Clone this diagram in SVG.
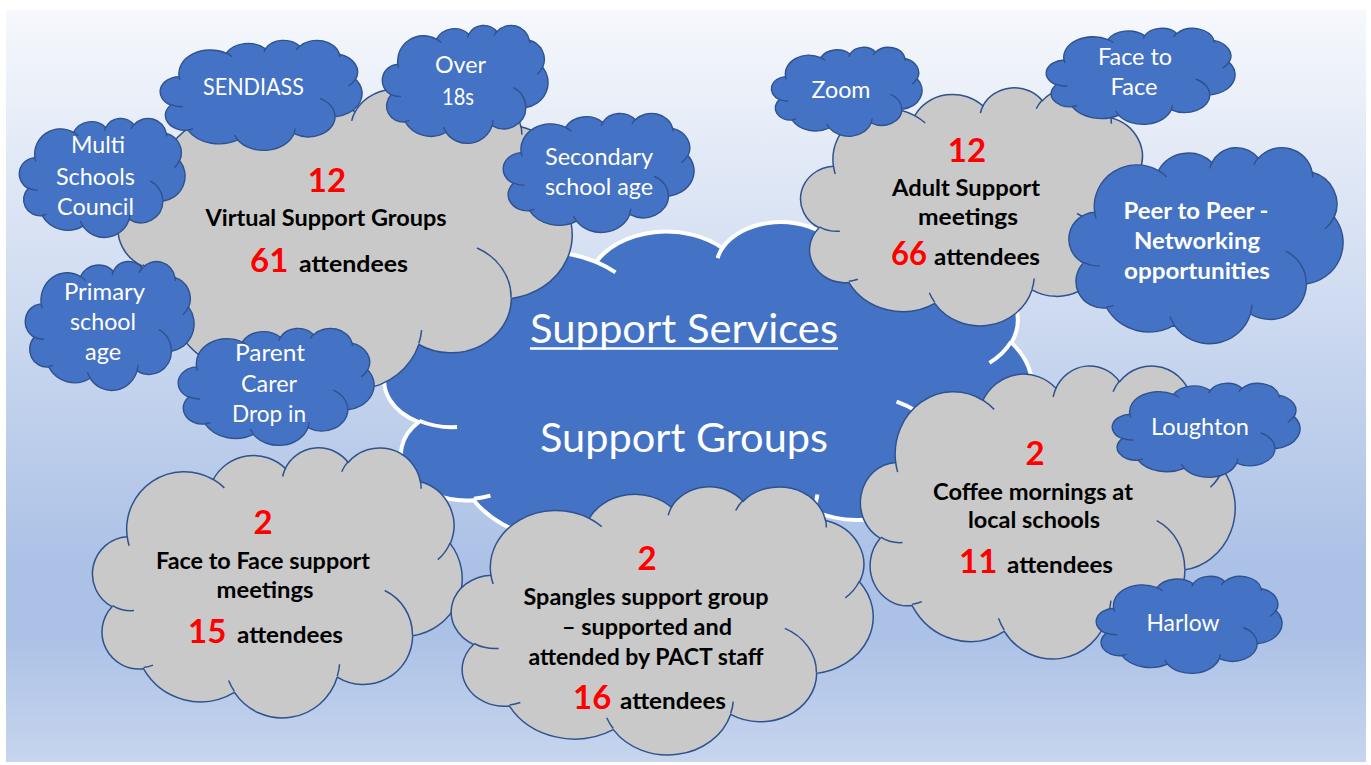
<svg xmlns="http://www.w3.org/2000/svg" width="1371" height="765" viewBox="0 0 1371 765">
<defs>
<linearGradient id="bg" x1="0" y1="0" x2="0" y2="1">
<stop offset="0" stop-color="#f6f8fc"/>
<stop offset="0.74" stop-color="#abc1e6"/>
<stop offset="0.83" stop-color="#abc1e6"/>
<stop offset="1" stop-color="#c7d5ee"/>
</linearGradient>
<g id="cloud">
<path vector-effect="non-scaling-stroke" d="M39,143.7 A67.53,91.9 0 0 1 140.05,52.02 A53.33,72.67 0 0 1 224.57,34.32 A43.65,59.45 0 0 1 298.34,24.79 A48.57,65.95 0 0 1 383.19,55.74 A53.33,72.73 0 0 1 418.19,154.58 A67.75,92.2 0 0 1 374.06,302.03 A57.85,78.67 0 0 1 285.58,368.13 A67.52,92.15 0 0 1 164.84,392.67 A77.2,105.43 0 0 1 58.07,354.72 A43.6,59.18 0 0 1 21.16,255.51 A43.45,59.45 0 0 1 39,143.7 Z"/>
<path vector-effect="non-scaling-stroke" fill="none" d="M46.93,261.77 A43.45,59.45 0 0 1 21.6,253.8 M69.28,348.99 A43.6,59.18 0 0 1 58.2,352.81 M164.78,390.9 A67.52,92.15 0 0 1 158.09,373.47 M288.27,347.51 A67.52,92.15 0 0 1 285.6,366.6 M341.29,229.54 A57.85,78.67 0 0 1 373.8,300.9 M417.98,153.54 A53.33,72.73 0 0 1 403.5,180.29 M383.24,54.26 A48.57,65.95 0 0 1 384.01,66.9 M290.78,39.52 A48.57,65.95 0 0 1 298.2,23.4 M221.41,47.2 A43.65,59.45 0 0 1 225,33.31 M140,51.92 A67.53,91.9 0 0 1 153.01,65.42 M41.27,157.89 A67.53,91.9 0 0 1 39,143.71"/>
</g>
</defs>
<style>
.blue{fill:#4472c4;stroke:#2f528f;stroke-width:1.4;stroke-linejoin:round}
.gray{fill:#c9c9c9;stroke:#2f528f;stroke-width:1.5;stroke-linejoin:round}
.core{fill:#4472c4;stroke:#ffffff;stroke-width:4;stroke-linejoin:round}
text{font-family:Lato,"Liberation Sans",sans-serif}
.w{fill:#ffffff;font-size:22.5px;text-anchor:middle}
.wb{fill:#ffffff;font-size:22.5px;font-weight:bold;text-anchor:middle}
.k{fill:#000000;font-size:22.5px;font-weight:bold;text-anchor:middle}
.ka{fill:#000000;font-size:22.5px;font-weight:bold}
.n{fill:#ff0000;font-size:33px;font-weight:bold;text-anchor:middle}
.na{fill:#ff0000;font-size:33px;font-weight:bold}
.big{fill:#ffffff;font-size:41px;text-anchor:middle}
</style>
<rect x="0" y="0" width="1371" height="765" fill="#ffffff"/>
<rect x="6" y="10" width="1360" height="752" fill="url(#bg)"/>

<g id="support-groups">
<use href="#cloud" class="core" transform="translate(387 221) scale(1.4931 0.7870)"/>
<text class="big" x="684" y="343" textLength="308" lengthAdjust="spacingAndGlyphs">Support Services</text>
<line x1="530" y1="348.5" x2="838" y2="348.5" stroke="#ffffff" stroke-width="2.5"/>
<text class="big" x="684" y="452" textLength="288" lengthAdjust="spacingAndGlyphs">Support Groups</text>
</g>

<g id="virtual-support-groups">
<use href="#cloud" class="gray" transform="translate(120 88) scale(1.0463 0.6968)"/>
<text class="n" x="327" y="192">12</text>
<text class="k" x="326" y="226" textLength="241" lengthAdjust="spacingAndGlyphs">Virtual Support Groups</text>
<text class="na" x="250" y="272">61</text>
<text class="ka" x="299" y="272" textLength="109" lengthAdjust="spacingAndGlyphs">attendees</text>
</g>

<g id="adult-support">
<use href="#cloud" class="gray" transform="translate(802 87) scale(0.8056 0.5509)"/>
<text class="n" x="967" y="162">12</text>
<text class="k" x="966" y="196" textLength="148" lengthAdjust="spacingAndGlyphs">Adult Support</text>
<text class="k" x="968" y="225" textLength="100" lengthAdjust="spacingAndGlyphs">meetings</text>
<text class="na" x="891" y="265" textLength="36" lengthAdjust="spacingAndGlyphs">66</text>
<text class="ka" x="934" y="265" textLength="106" lengthAdjust="spacingAndGlyphs">attendees</text>
</g>

<g id="face-to-face-meetings">
<use href="#cloud" class="gray" transform="translate(94 447) scale(0.8519 0.625)"/>
<text class="n" x="263" y="534">2</text>
<text class="k" x="263" y="569" textLength="214" lengthAdjust="spacingAndGlyphs">Face to Face support</text>
<text class="k" x="265" y="598" textLength="97" lengthAdjust="spacingAndGlyphs">meetings</text>
<text class="na" x="188" y="643">15</text>
<text class="ka" x="237" y="643" textLength="106" lengthAdjust="spacingAndGlyphs">attendees</text>
</g>

<g id="spangles">
<use href="#cloud" class="gray" transform="translate(453 486) scale(0.9722 0.6204)"/>
<text class="n" x="647" y="570">2</text>
<text class="k" x="646" y="605" textLength="245" lengthAdjust="spacingAndGlyphs">Spangles support group</text>
<text class="k" x="647" y="635" textLength="170" lengthAdjust="spacingAndGlyphs">– supported and</text>
<text class="k" x="646" y="665" textLength="235" lengthAdjust="spacingAndGlyphs">attended by PACT staff</text>
<text class="na" x="573" y="709">16</text>
<text class="ka" x="620" y="709" textLength="106" lengthAdjust="spacingAndGlyphs">attendees</text>
</g>

<g id="coffee-mornings">
<use href="#cloud" class="gray" transform="translate(862 365) scale(0.8634 0.6782)"/>
<text class="n" x="1035" y="465">2</text>
<text class="k" x="1033" y="500" textLength="200" lengthAdjust="spacingAndGlyphs">Coffee mornings at</text>
<text class="k" x="1034" y="528" textLength="132" lengthAdjust="spacingAndGlyphs">local schools</text>
<text class="na" x="959" y="573">11</text>
<text class="ka" x="1007" y="573" textLength="106" lengthAdjust="spacingAndGlyphs">attendees</text>
</g>

<g id="sendiass">
<use href="#cloud" class="blue" transform="translate(161 40) scale(0.4653 0.2546)"/>
<text class="w" x="253.5" y="95" textLength="101" lengthAdjust="spacingAndGlyphs">SENDIASS</text>
</g>

<g id="over-18s">
<use href="#cloud" class="blue" transform="translate(383 25) scale(0.3819 0.2731)"/>
<text class="w" x="460.5" y="73" textLength="51" lengthAdjust="spacingAndGlyphs">Over</text>
<text class="w" x="458" y="105" textLength="32" lengthAdjust="spacingAndGlyphs">18s</text>
</g>

<g id="multi-schools-council">
<use href="#cloud" class="blue" transform="translate(20 118) scale(0.3819 0.2755)"/>
<text class="w" x="98" y="153" textLength="54" lengthAdjust="spacingAndGlyphs">Multi</text>
<text class="w" x="95.5" y="185" textLength="79" lengthAdjust="spacingAndGlyphs">Schools</text>
<text class="w" x="95.5" y="215" textLength="77" lengthAdjust="spacingAndGlyphs">Council</text>
</g>

<g id="secondary-school-age">
<use href="#cloud" class="blue" transform="translate(504 113) scale(0.4398 0.2755)"/>
<text class="w" x="599" y="165" textLength="108" lengthAdjust="spacingAndGlyphs">Secondary</text>
<text class="w" x="599" y="195" textLength="108" lengthAdjust="spacingAndGlyphs">school age</text>
</g>

<g id="primary-school-age">
<use href="#cloud" class="blue" transform="translate(26 261) scale(0.3889 0.2986)"/>
<text class="w" x="104.5" y="300" textLength="81" lengthAdjust="spacingAndGlyphs">Primary</text>
<text class="w" x="103" y="330" textLength="66" lengthAdjust="spacingAndGlyphs">school</text>
<text class="w" x="103" y="360" textLength="36" lengthAdjust="spacingAndGlyphs">age</text>
</g>

<g id="parent-carer-drop-in">
<use href="#cloud" class="blue" transform="translate(179 328) scale(0.4514 0.2708)"/>
<text class="w" x="270" y="361" textLength="70" lengthAdjust="spacingAndGlyphs">Parent</text>
<text class="w" x="269" y="392" textLength="56" lengthAdjust="spacingAndGlyphs">Carer</text>
<text class="w" x="269" y="422" textLength="74" lengthAdjust="spacingAndGlyphs">Drop in</text>
</g>

<g id="zoom">
<use href="#cloud" class="blue" transform="translate(772 47) scale(0.3472 0.2060)"/>
<text class="w" x="841" y="98" textLength="59" lengthAdjust="spacingAndGlyphs">Zoom</text>
</g>

<g id="face-to-face">
<use href="#cloud" class="blue" transform="translate(1047 28) scale(0.4352 0.2222)"/>
<text class="w" x="1135" y="65" textLength="74" lengthAdjust="spacingAndGlyphs">Face to</text>
<text class="w" x="1134" y="95" textLength="47" lengthAdjust="spacingAndGlyphs">Face</text>
</g>

<g id="peer-to-peer">
<use href="#cloud" class="blue" transform="translate(1070 147) scale(0.6319 0.4537)"/>
<text class="wb" x="1196" y="219" textLength="145" lengthAdjust="spacingAndGlyphs">Peer to Peer -</text>
<text class="wb" x="1197" y="249" textLength="126" lengthAdjust="spacingAndGlyphs">Networking</text>
<text class="wb" x="1197" y="279" textLength="146" lengthAdjust="spacingAndGlyphs">opportunities</text>
</g>

<g id="loughton">
<use href="#cloud" class="blue" transform="translate(1113 383) scale(0.4329 0.2176)"/>
<text class="w" x="1200" y="435" textLength="98" lengthAdjust="spacingAndGlyphs">Loughton</text>
</g>

<g id="harlow">
<use href="#cloud" class="blue" transform="translate(1097 576) scale(0.4282 0.2245)"/>
<text class="w" x="1183" y="631" textLength="73" lengthAdjust="spacingAndGlyphs">Harlow</text>
</g>
</svg>
